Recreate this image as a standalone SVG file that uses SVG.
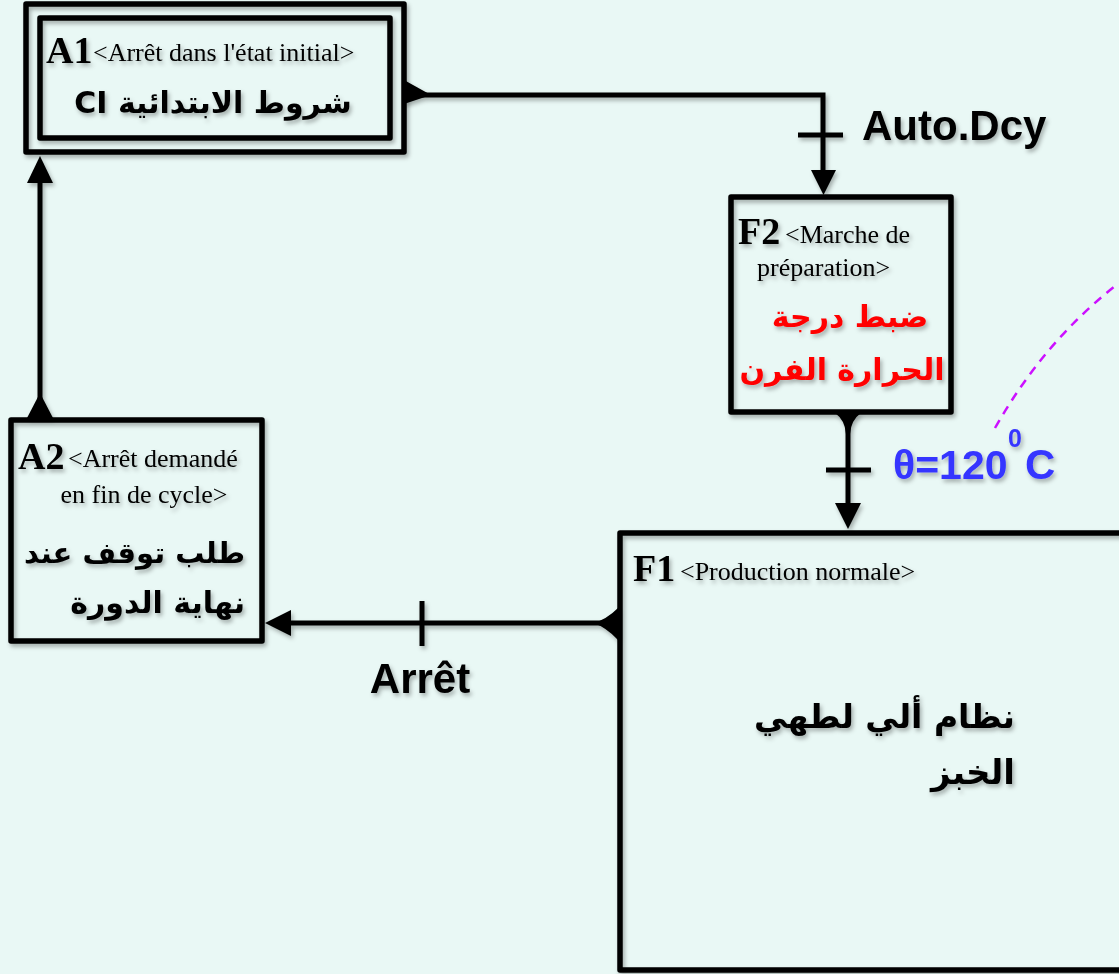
<svg xmlns="http://www.w3.org/2000/svg" width="1119" height="974" viewBox="0 0 1119 974">
  <style>
    .box { fill: none; stroke: #000; stroke-width: 5.5; stroke-linejoin: round; }
    .wire { fill: none; stroke: #000; stroke-width: 5; }
    .tick { fill: none; stroke: #000; stroke-width: 5; }
    .head { fill: #000; }
    .num { font-family: "Liberation Serif", serif; font-weight: bold; font-size: 38px; fill: #000; }
    .sub { font-family: "Liberation Serif", serif; font-size: 26px; fill: #000; }
    .ar { font-family: "DejaVu Sans", "Noto Sans", sans-serif; font-weight: bold; font-size: 30px; fill: #000; }
    .cond { font-family: "Liberation Sans", sans-serif; font-weight: bold; font-size: 42px; fill: #000; }
    .temp { font-family: "Liberation Sans", sans-serif; font-weight: bold; fill: #3636ff; }
  </style>
  <defs>
    <filter id="shadow" x="-10%" y="-10%" width="130%" height="130%">
      <feDropShadow dx="2" dy="3" stdDeviation="2" flood-color="#000" flood-opacity="0.3"/>
    </filter>
  </defs>

  <rect width="1119" height="974" fill="#e9f8f5"/>

  <!-- magenta dashed guide arc -->
  <path d="M995,428 Q1045,340 1119,283" fill="none" stroke="#cc11ff" stroke-width="2.5" stroke-dasharray="9,7"/>

  <!-- connectors -->
  <g id="connectors" filter="url(#shadow)">
    <!-- A1 -> F2 -->
    <path class="wire" d="M404,95 H823 V172"/>
    <path class="head" d="M404,80 L431,95 L404,104 Z"/>
    <line class="tick" x1="798" y1="135" x2="843" y2="135"/>
    <path class="head" d="M811,170 L836,170 L823.5,195 Z"/>

    <!-- F2 -> F1 -->
    <path class="wire" d="M848,412 V505"/>
    <path class="head" d="M835,413 L861,413 Q851,420 850,434 L846,434 Q845,420 835,413 Z"/>
    <line class="tick" x1="826" y1="470" x2="871" y2="470"/>
    <path class="head" d="M835,503 L861,503 L848,529 Z"/>

    <!-- F1 -> A2 -->
    <path class="wire" d="M618,623 H290"/>
    <path class="head" d="M618,608 Q606,620 593,623 Q606,627 618,640 Z"/>
    <line class="tick" x1="422" y1="601" x2="422" y2="646"/>
    <path class="head" d="M291,610 L291,636 L265,623 Z"/>

    <!-- A2 -> A1 -->
    <path class="wire" d="M40,417 V182"/>
    <path class="head" d="M27,418 L53,418 L40,393 Z"/>
    <path class="head" d="M27,183 L53,183 L40,156 Z"/>
  </g>

  <!-- step A1 (initial, double frame) -->
  <g id="A1">
    <g filter="url(#shadow)">
      <rect class="box" x="26" y="4" width="378" height="148"/>
      <rect class="box" x="40" y="18" width="350" height="120"/>
    </g>
    <g filter="url(#shadow)">
      <text class="num" x="46" y="63">A1</text>
      <text class="sub" x="93" y="61">&lt;Arrêt dans l'état initial&gt;</text>
      <text class="ar" x="213" y="113" text-anchor="middle" direction="rtl">شروط  الابتدائية CI</text>
    </g>
  </g>

  <!-- step F2 -->
  <g id="F2">
    <rect class="box" x="731" y="197" width="220" height="215" filter="url(#shadow)"/>
    <g filter="url(#shadow)">
      <text class="num" x="738" y="244">F2</text>
      <text class="sub" x="785" y="243">&lt;Marche de</text>
      <text class="sub" x="757" y="276">préparation&gt;</text>
      <text class="ar" x="850" y="327" text-anchor="middle" direction="rtl" style="fill:#ff0000">ضبط درجة</text>
      <text class="ar" x="842" y="380" text-anchor="middle" direction="rtl" style="fill:#ff0000">الحرارة الفرن</text>
    </g>
  </g>

  <!-- step A2 -->
  <g id="A2">
    <rect class="box" x="11" y="420" width="251" height="221" filter="url(#shadow)"/>
    <g filter="url(#shadow)">
      <text class="num" x="18" y="469">A2</text>
      <text class="sub" x="68" y="467">&lt;Arrêt demandé</text>
      <text class="sub" x="144" y="503" text-anchor="middle">en fin de cycle&gt;</text>
      <text class="ar" x="245" y="563" direction="rtl" style="font-size:29px">طلب توقف عند</text>
      <text class="ar" x="245" y="613" direction="rtl">نهاية الدورة</text>
    </g>
  </g>

  <!-- step F1 -->
  <g id="F1">
    <rect class="box" x="620" y="533" width="560" height="437" filter="url(#shadow)"/>
    <g filter="url(#shadow)">
      <text class="num" x="633" y="581">F1</text>
      <text class="sub" x="680" y="580">&lt;Production normale&gt;</text>
      <text class="ar" x="1015" y="728" direction="rtl" style="font-size:33px">نظام ألي لطهي</text>
      <text class="ar" x="1015" y="784" direction="rtl" style="font-size:34px">الخبز</text>
    </g>
  </g>

  <!-- transition receptivities -->
  <g id="labels" filter="url(#shadow)">
    <text class="cond" x="862" y="140">Auto.Dcy</text>
    <text class="cond" x="420" y="693" text-anchor="middle">Arrêt</text>
    <text class="temp" x="893" y="479" style="font-size:41px">θ=120</text>
    <text class="temp" x="1008" y="447" style="font-size:25px">0</text>
    <text class="temp" x="1025" y="479" style="font-size:42px">C</text>
  </g>
</svg>
